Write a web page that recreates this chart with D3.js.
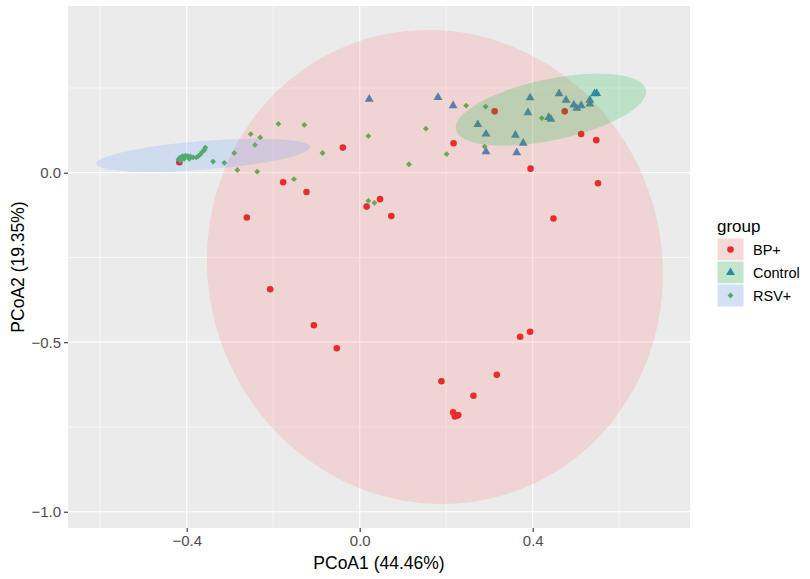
<!DOCTYPE html>
<html>
<head>
<meta charset="utf-8">
<script src="https://cdn.jsdelivr.net/npm/d3@7"></script>
<style>
  body { margin: 0; background: #fff; }
  text { font-family: "Liberation Sans", Arial, sans-serif; }
</style>
</head>
<body>
<svg width="810" height="579"></svg>
<script>
const groups = ['BP+', 'Control', 'RSV+']
const pointColors = ['#E41A1C', '#377EB8', '#4DAF4A']
const fillColors = ['#F8766D', '#00BA38', '#619CFF']

// sample coordinates: [PCoA1, PCoA2]
const bpPlus = [
  [-0.417, 0.031], [-0.039, 0.074], [-0.177, -0.028], [-0.123, -0.057],
  [-0.261, -0.132], [0.016, -0.100], [0.047, -0.078], [0.073, -0.128],
  [0.217, 0.087], [0.312, 0.181], [0.474, 0.181], [0.512, 0.114],
  [0.547, 0.096], [0.395, 0.012], [0.551, -0.031], [0.448, -0.135],
  [-0.207, -0.344], [-0.106, -0.450], [-0.053, -0.518], [0.189, -0.615],
  [0.263, -0.658], [0.317, -0.596], [0.371, -0.484], [0.394, -0.469],
  [0.216, -0.707], [0.224, -0.717], [0.228, -0.715], [0.220, -0.719]
]
const control = [
  [0.022, 0.217], [0.181, 0.222], [0.216, 0.198], [0.273, 0.142],
  [0.292, 0.114], [0.292, 0.062], [0.360, 0.111], [0.378, 0.087],
  [0.363, 0.059], [0.394, 0.221], [0.389, 0.177], [0.437, 0.163],
  [0.442, 0.158], [0.461, 0.233], [0.477, 0.214], [0.495, 0.200],
  [0.502, 0.190], [0.512, 0.198], [0.532, 0.214], [0.532, 0.203],
  [0.543, 0.233], [0.548, 0.234]
]
const rsvPlus = [
  [-0.419, 0.040], [-0.415, 0.045], [-0.415, 0.035], [-0.409, 0.049],
  [-0.406, 0.041], [-0.403, 0.050], [-0.397, 0.049], [-0.394, 0.041],
  [-0.391, 0.047], [-0.385, 0.045], [-0.378, 0.045], [-0.373, 0.049],
  [-0.368, 0.055], [-0.364, 0.062], [-0.359, 0.067], [-0.357, 0.074],
  [-0.339, 0.033], [-0.313, 0.029], [-0.290, 0.058], [-0.283, 0.008],
  [-0.252, 0.114], [-0.230, 0.104], [-0.242, 0.082], [-0.237, 0.003],
  [-0.188, 0.144], [-0.128, 0.141], [-0.086, 0.058], [-0.152, -0.019],
  [0.020, 0.108], [0.020, -0.083], [0.034, -0.089], [0.114, 0.025],
  [0.153, 0.130], [0.201, 0.055], [0.246, 0.198], [0.291, 0.195],
  [0.289, 0.077], [0.421, 0.161]
]

// confidence ellipse per group: centre x, centre y, half-width, half-height, correlation
const ellipses = [
  [0.174, -0.278, 0.527, 0.699, -0.03],
  [0.442, 0.186, 0.220, 0.106, 0.5],
  [-0.362, 0.051, 0.247, 0.049, 0.5]
]

const xMajor = [-0.4, 0.0, 0.4]
const xMinor = [-0.6, -0.2, 0.2, 0.6]
const yMajor = [0.0, -0.5, -1.0]
const yMinor = [0.25, -0.25, -0.75]

const svg = d3.select('svg')
const panel = { left: 68, top: 6, right: 690, bottom: 528 }

const x = d3.scaleLinear().domain([-0.6745, 0.7637]).range([panel.left, panel.right])
const y = d3.scaleLinear().domain([0.4917, -1.048]).range([panel.top, panel.bottom])

svg.append('rect')
  .attr('x', panel.left).attr('y', panel.top)
  .attr('width', panel.right - panel.left).attr('height', panel.bottom - panel.top)
  .attr('fill', '#EBEBEB')

// grid lines
const grid = svg.append('g').attr('stroke', '#fff')
grid.selectAll('.xminor').data(xMinor).join('line')
  .attr('x1', d => x(d)).attr('x2', d => x(d))
  .attr('y1', panel.top).attr('y2', panel.bottom).attr('stroke-width', 0.6)
grid.selectAll('.yminor').data(yMinor).join('line')
  .attr('y1', d => y(d)).attr('y2', d => y(d))
  .attr('x1', panel.left).attr('x2', panel.right).attr('stroke-width', 0.6)
grid.selectAll('.xmajor').data(xMajor).join('line')
  .attr('x1', d => x(d)).attr('x2', d => x(d))
  .attr('y1', panel.top).attr('y2', panel.bottom).attr('stroke-width', 1.2)
grid.selectAll('.ymajor').data(yMajor).join('line')
  .attr('y1', d => y(d)).attr('y2', d => y(d))
  .attr('x1', panel.left).attr('x2', panel.right).attr('stroke-width', 1.2)

// points
const shapes = [d3.symbolCircle, d3.symbolTriangle, d3.symbolSquare]
const sizes = [34, 34, 17]
const series = [bpPlus, control, rsvPlus]
series.forEach((pts, i) => {
  svg.append('g').selectAll('path').data(pts).join('path')
    .attr('d', d3.symbol().type(shapes[i]).size(sizes[i]))
    .attr('transform', d => `translate(${x(d[0])},${y(d[1])})` + (i === 2 ? ' rotate(45)' : ''))
    .attr('fill', pointColors[i])
})

// ellipses drawn over the points
const angles = d3.range(0, 2 * Math.PI, Math.PI / 90)
const ellipseLine = d3.line().curve(d3.curveLinearClosed)
ellipses.forEach(([cx, cy, sx, sy, r], i) => {
  const ring = angles.map(t => [
    x(cx + sx * Math.cos(t)),
    y(cy + sy * (r * Math.cos(t) + Math.sqrt(1 - r * r) * Math.sin(t)))
  ])
  svg.append('path')
    .attr('d', ellipseLine(ring))
    .attr('fill', fillColors[i])
    .attr('fill-opacity', 0.2)
})

// axes
const xAxis = svg.append('g')
  .attr('transform', `translate(0,${panel.bottom})`)
  .call(d3.axisBottom(x).tickValues(xMajor).tickSize(4).tickPadding(3))
const yAxis = svg.append('g')
  .attr('transform', `translate(${panel.left},0)`)
  .call(d3.axisLeft(y).tickValues(yMajor).tickSize(4).tickPadding(3))
;[xAxis, yAxis].forEach(a => {
  a.select('.domain').remove()
  a.selectAll('line').attr('stroke', '#333').attr('stroke-width', 1.1)
  a.selectAll('text').attr('fill', '#4D4D4D').style('font-size', '15px')
    .style('font-family', '"Liberation Sans", Arial, sans-serif')
    .text(d => d3.format('.1f')(d).replace('-', '\u2212'))
})

svg.append('text')
  .attr('x', (panel.left + panel.right) / 2).attr('y', 569)
  .attr('text-anchor', 'middle').style('font-size', '17.5px')
  .text('PCoA1 (44.46%)')
svg.append('text')
  .attr('transform', `translate(24,${(panel.top + panel.bottom) / 2}) rotate(-90)`)
  .attr('text-anchor', 'middle').style('font-size', '17.5px')
  .text('PCoA2 (19.35%)')

// legend
const legend = svg.append('g').attr('transform', 'translate(717,238)')
legend.append('text').attr('x', 0).attr('y', -6).style('font-size', '17px').text('group')
const keyH = 23
groups.forEach((g, i) => {
  const k = legend.append('g').attr('transform', `translate(0,${i * keyH})`)
  k.append('rect').attr('width', 27).attr('height', keyH).attr('fill', '#F2F2F2')
    .attr('stroke', '#fff').attr('stroke-width', 1)
  k.append('path')
    .attr('d', d3.symbol().type(shapes[i]).size(sizes[i]))
    .attr('transform', `translate(13.5,${keyH / 2})` + (i === 2 ? ' rotate(45)' : ''))
    .attr('fill', pointColors[i])
  k.append('rect').attr('x', 0.5).attr('y', 0.5).attr('width', 26).attr('height', keyH - 1)
    .attr('fill', fillColors[i]).attr('fill-opacity', 0.2)
  k.append('text').attr('x', 36).attr('y', keyH / 2).attr('dy', '0.36em')
    .style('font-size', '14.5px').text(g)
})
</script>
</body>
</html>
